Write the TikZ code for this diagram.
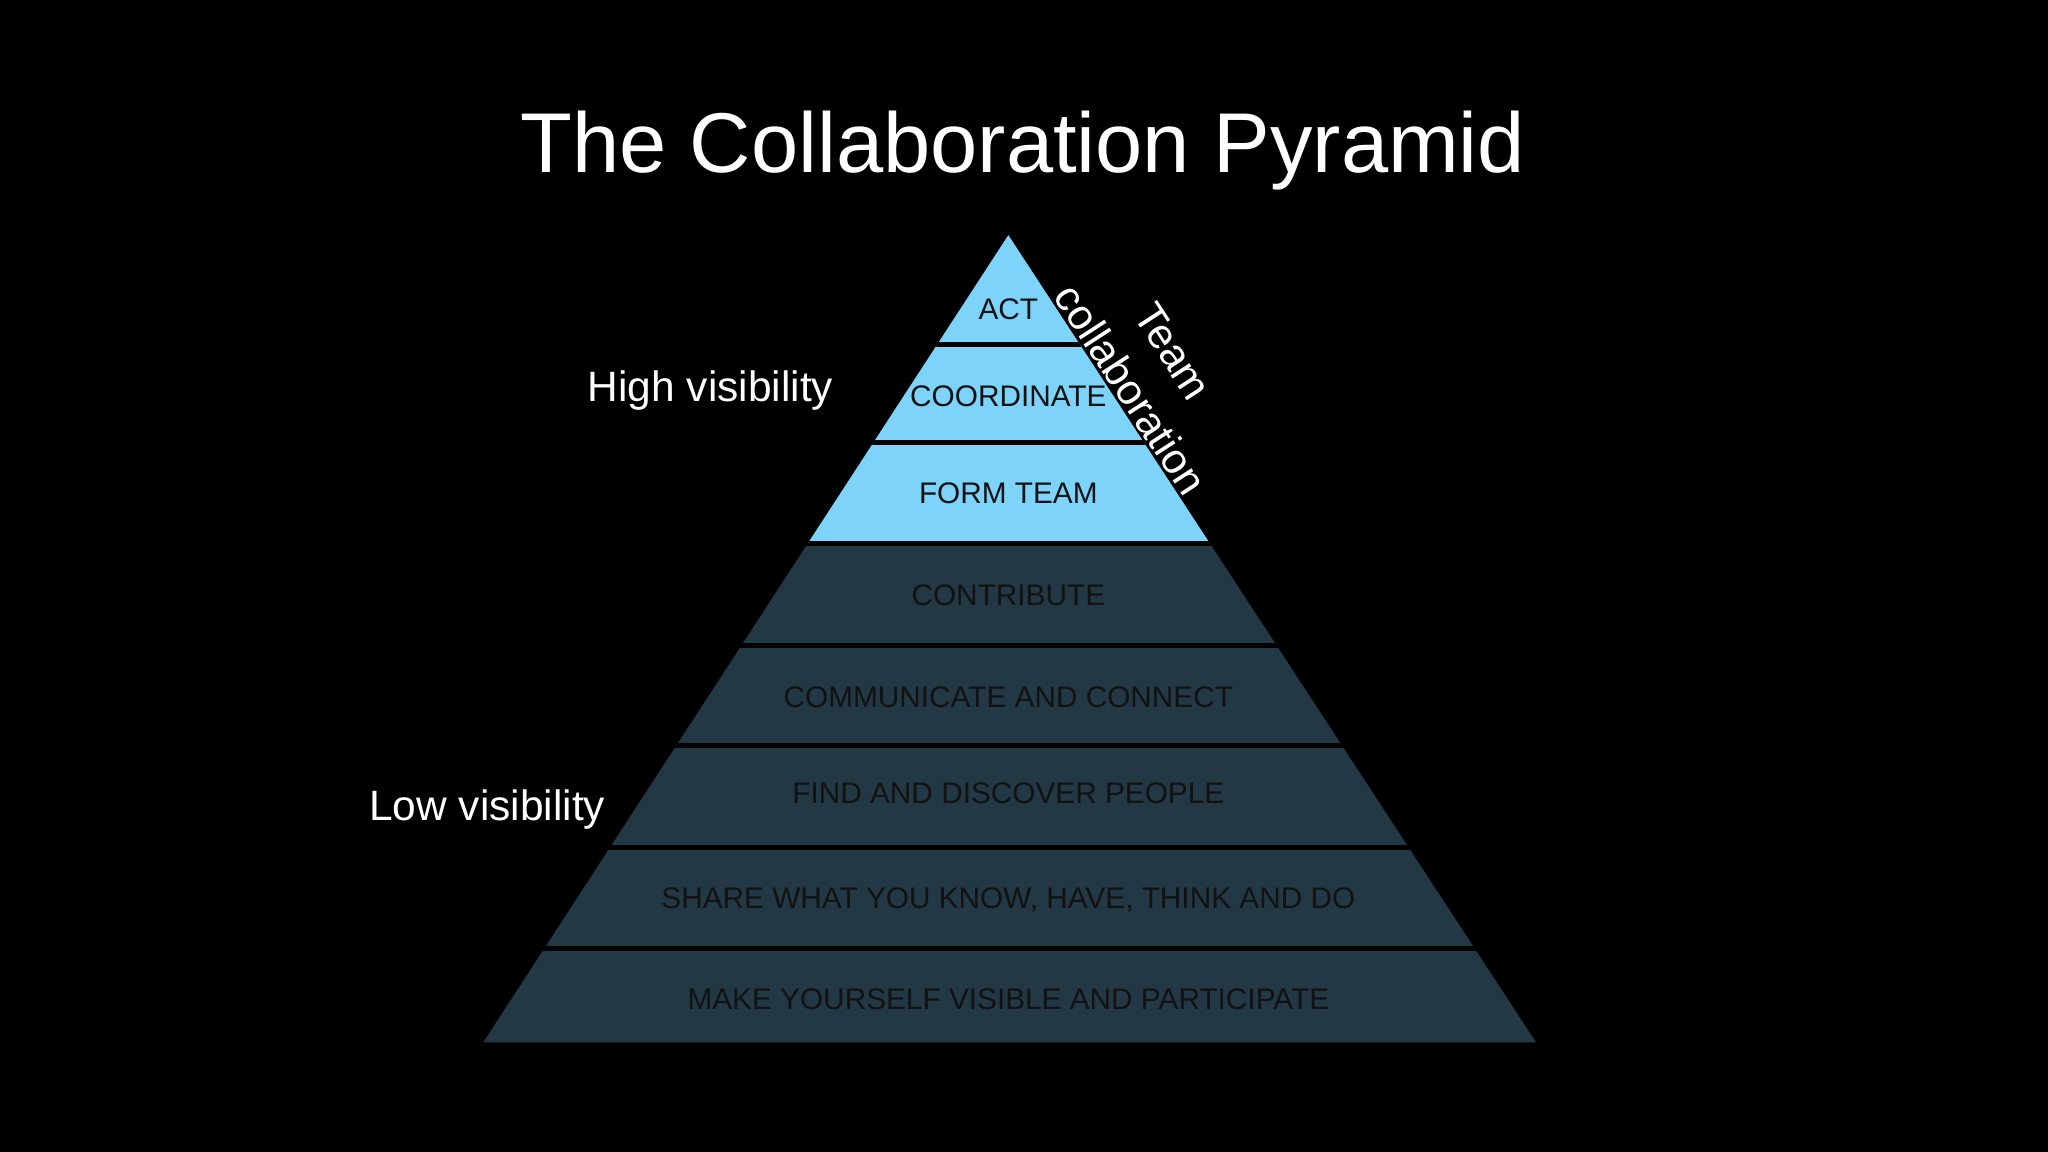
\documentclass[tikz,border=0pt]{standalone}
\usepackage{fontspec}
\setmainfont{Liberation Sans}
\definecolor{lblue}{HTML}{7DD3FA}
\definecolor{dteal}{HTML}{223844}
\definecolor{btext}{HTML}{121212}
\begin{document}
\begin{tikzpicture}[x=1pt,y=-1pt,
  band/.style={font=\fontsize{22.8}{26}\selectfont,text=btext},
  lab/.style={font=\fontsize{32.5}{36}\selectfont,text=white}]
\useasboundingbox[fill=black] (0,0) rectangle (1568,882);
\node[font=\fontsize{65}{72}\selectfont,text=white] (title) at (783,115) {The Collaboration Pyramid};
\begin{scope}
\clip (772,180) -- (1176,798) -- (370,798) -- cycle;
\fill[lblue] (300,170) rectangle (1250,416);
\fill[dteal] (300,416) rectangle (1250,800);
\foreach \y in {264,339,416,494,571,649,726}{\draw[black,line width=4] (300,\y) -- (1250,\y);}
\end{scope}
\node[band] (act) at (772,237) {ACT};
\node[band] (coord) at (772,303) {COORDINATE};
\node[band] (form) at (772,378) {FORM TEAM};
\node[band] (contr) at (772,456) {CONTRIBUTE};
\node[band] (comm) at (772,534) {COMMUNICATE AND CONNECT};
\node[band] (find) at (772,607) {FIND AND DISCOVER PEOPLE};
\node[band] (share) at (772,689) {SHARE WHAT YOU KNOW, HAVE, THINK AND DO};
\node[band] (make) at (772,765) {MAKE YOURSELF VISIBLE AND PARTICIPATE};
\node[lab] (high) at (544,299) {High visibility};
\node[lab] (low) at (373,620) {Low visibility};
\node[lab,rotate=-57] (team) at (898,269) {Team};
\node[lab,rotate=-57] (collab) at (866,298) {collaboration};
\end{tikzpicture}
\end{document}
